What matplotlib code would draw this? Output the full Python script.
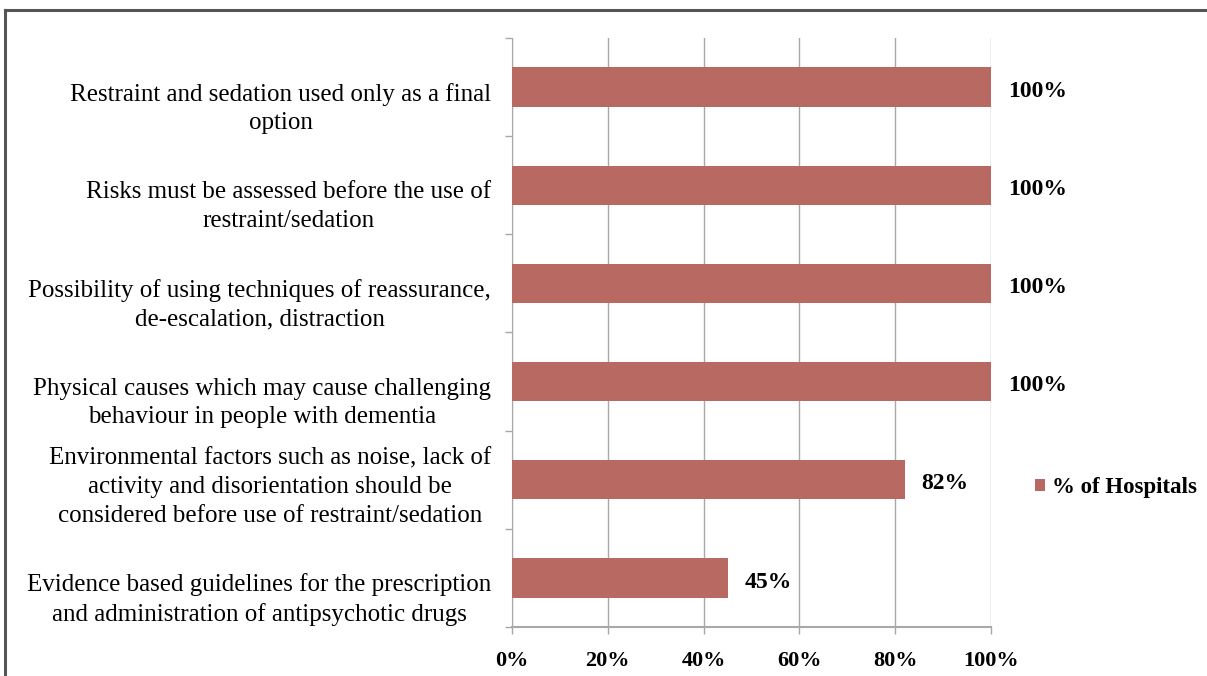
import matplotlib
matplotlib.use("Agg")
import matplotlib.pyplot as plt
from matplotlib.lines import Line2D
import numpy as np

categories = [
    "Restraint and sedation used only as a final\noption",
    "Risks must be assessed before the use of\nrestraint/sedation",
    "Possibility of using techniques of reassurance,\nde-escalation, distraction",
    "Physical causes which may cause challenging\nbehaviour in people with dementia",
    "Environmental factors such as noise, lack of\nactivity and disorientation should be\nconsidered before use of restraint/sedation",
    "Evidence based guidelines for the prescription\nand administration of antipsychotic drugs",
]
values = [100, 100, 100, 100, 82, 45]
value_labels = ["100%", "100%", "100%", "100%", "82%", "45%"]
xticks = [0, 20, 40, 60, 80, 100]
xtick_labels = ["0%", "20%", "40%", "60%", "80%", "100%"]
series_name = "% of Hospitals"

plt.rcParams["font.family"] = ["Liberation Serif", "DejaVu Serif"]

fig = plt.figure(figsize=(12.07, 6.76), dpi=100)
ax = fig.add_axes([0.4242, 0.0725, 0.3969, 0.8713])

bar_color = "#B86A62"
grid_color = "#A8A8A8"
n = len(categories)
ypos = np.arange(n)
ax.barh(ypos, values, height=0.4, color=bar_color, label=series_name, zorder=3)
ax.set_ylim(n - 0.5, -0.5)
ax.set_xlim(0, 100)

ax.set_xticks(xticks)
ax.set_xticklabels(xtick_labels, fontsize=16, fontweight="bold")
ax.set_yticks(ypos)
ax.set_yticklabels([])
ax.set_yticks(np.arange(n + 1) - 0.5, minor=True)
ax.tick_params(axis="y", which="major", length=0)
ax.tick_params(axis="y", which="minor", length=5, color=grid_color, width=1)
ax.tick_params(axis="x", which="major", length=5, color=grid_color, width=1, pad=12)

# category labels (placed slightly below the bar centre, as in the source)
for y, lab in zip(ypos, categories):
    nlines = lab.count("\n") + 1
    dy = -15.5 if nlines == 2 else -5.5
    ax.annotate(lab, (0, y), xytext=(-15, dy), textcoords="offset points",
                ha="right", va="center", multialignment="center",
                fontsize=18, linespacing=1.39, annotation_clip=False)

ax.grid(axis="x", color=grid_color, linewidth=1, zorder=0)
for s in ["top", "right"]:
    ax.spines[s].set_visible(False)
ax.spines["left"].set_color(grid_color)
ax.spines["bottom"].set_color(grid_color)
ax.spines["bottom"].set_linewidth(1.5)

for y, v, lab in zip(ypos, values, value_labels):
    ax.annotate(lab, (v, y), xytext=(12, -3), textcoords="offset points",
                va="center", ha="left", fontsize=17, fontweight="bold")

leg = fig.legend(loc="center left", bbox_to_anchor=(0.840, 0.279), frameon=False,
                 prop={"size": 16.5, "weight": "bold"}, handlelength=0.45,
                 handleheight=0.45, handletextpad=0.3)

fig.add_artist(Line2D([0.004, 1.0], [0.985, 0.985], transform=fig.transFigure,
                      color="#555555", linewidth=2.2))
fig.add_artist(Line2D([0.004, 0.004], [0.0, 0.985], transform=fig.transFigure,
                      color="#555555", linewidth=2.2))

fig.savefig("out.png", dpi=100, facecolor="white")
